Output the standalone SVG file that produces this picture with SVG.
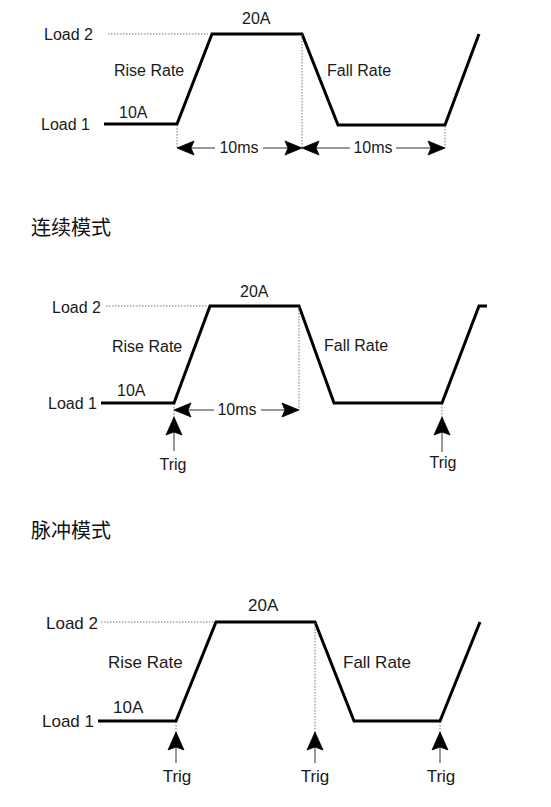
<svg xmlns="http://www.w3.org/2000/svg" width="551" height="807" viewBox="0 0 551 807">
<defs>
<style>
.t{font-family:"Liberation Sans",Arial,sans-serif;fill:#1a1a1a;font-size:16px}
.b{font-size:17px}
.cn{font-family:"Noto Sans CJK SC","Noto Sans CJK JP",sans-serif;font-size:20px;fill:#111}
.w{fill:none;stroke:#000;stroke-width:3;stroke-linejoin:miter}
.d{fill:none;stroke:#777;stroke-width:1;stroke-dasharray:1.5,1.5}
.dim{fill:none;stroke:#333;stroke-width:1}
.head{fill:#000;stroke:#000;stroke-width:0.8;stroke-linejoin:miter}
</style>
</defs>
<rect width="551" height="807" fill="#fff"/>

<g id="panel-continuous">
<g id="wave1"><path class="w" d="M104,124 H177 L212,34 H302 L338,125 H445 L479,34"/></g>
<g id="labels1">
<text class="t" x="44" y="40">Load 2</text>
<text class="t" x="41" y="130">Load 1</text>
<text class="t" x="242" y="24">20A</text>
<text class="t" x="114" y="76">Rise Rate</text>
<text class="t" x="119" y="118">10A</text>
<text class="t" x="327" y="76">Fall Rate</text>
<text class="t" x="239" y="153" text-anchor="middle">10ms</text>
<text class="t" x="373" y="153" text-anchor="middle">10ms</text>
</g>
</g>

<text id="title-continuous" class="cn" x="31" y="235">连续模式</text>

<g id="panel-pulse">
<g id="wave2"><path class="w" d="M101,403 H174 L210,306 H299 L334,403 H442 L479,306 H487"/></g>
<g id="labels2">
<text class="t" x="52" y="313">Load 2</text>
<text class="t" x="48" y="409">Load 1</text>
<text class="t" x="240" y="297">20A</text>
<text class="t" x="112" y="352">Rise Rate</text>
<text class="t" x="117" y="396">10A</text>
<text class="t" x="324" y="351">Fall Rate</text>
<text class="t" x="237" y="415" text-anchor="middle">10ms</text>
<text class="t" x="173" y="470" text-anchor="middle">Trig</text>
<text class="t" x="443" y="468" text-anchor="middle">Trig</text>
</g>
</g>

<text id="title-pulse" class="cn" x="31" y="538">脉冲模式</text>

<g id="panel-toggle">
<g id="wave3"><path class="w" d="M98,721 H176 L216,622 H315 L354,721 H440 L480,622"/></g>
<g id="labels3">
<text class="t b" x="46" y="629">Load 2</text>
<text class="t b" x="42" y="727">Load 1</text>
<text class="t b" x="248" y="611">20A</text>
<text class="t b" x="108" y="668">Rise Rate</text>
<text class="t b" x="113" y="713">10A</text>
<text class="t b" x="343" y="668">Fall Rate</text>
<text class="t b" x="177" y="782" text-anchor="middle">Trig</text>
<text class="t b" x="315" y="782" text-anchor="middle">Trig</text>
<text class="t b" x="441" y="782" text-anchor="middle">Trig</text>
</g>
</g>

<g id="connectors">
<path class="d" d="M108,34 H208 M177,125 V148 M302,35 V148 M445,126 V148"/>
<path class="d" d="M106,306 H208 M174,404 V418 M299,307 V410 M442,404 V418"/>
<path class="d" d="M101,622 H214 M176,722 V733 M315,623 V733 M440,722 V733"/>
<path class="dim" d="M188,148 H215 M263,148 H291 M313,148 H350 M396,148 H434"/>
<path class="dim" d="M185,410 H214 M261,410 H288"/>
<path class="head" d="M177,148 l17,-7 l-3,7 l3,7 Z"/>
<path class="head" d="M302,148 l-17,-7 l3,7 l-3,7 Z"/>
<path class="head" d="M302,148 l17,-7 l-3,7 l3,7 Z"/>
<path class="head" d="M445,148 l-17,-7 l3,7 l-3,7 Z"/>
<path class="head" d="M174,410 l17,-7 l-3,7 l3,7 Z"/>
<path class="head" d="M299,410 l-17,-7 l3,7 l-3,7 Z"/>
<path class="dim" d="M174,451 V430 M442,452 V430 M176,763 V745 M315,763 V745 M440,763 V745"/>
<path class="head" d="M174,417 l-8,18 l8,-3 l8,3 Z"/>
<path class="head" d="M442,417 l-8,18 l8,-3 l8,3 Z"/>
<path class="head" d="M176,732 l-8,18 l8,-3 l8,3 Z"/>
<path class="head" d="M315,732 l-8,18 l8,-3 l8,3 Z"/>
<path class="head" d="M440,732 l-8,18 l8,-3 l8,3 Z"/>
</g>
</svg>
